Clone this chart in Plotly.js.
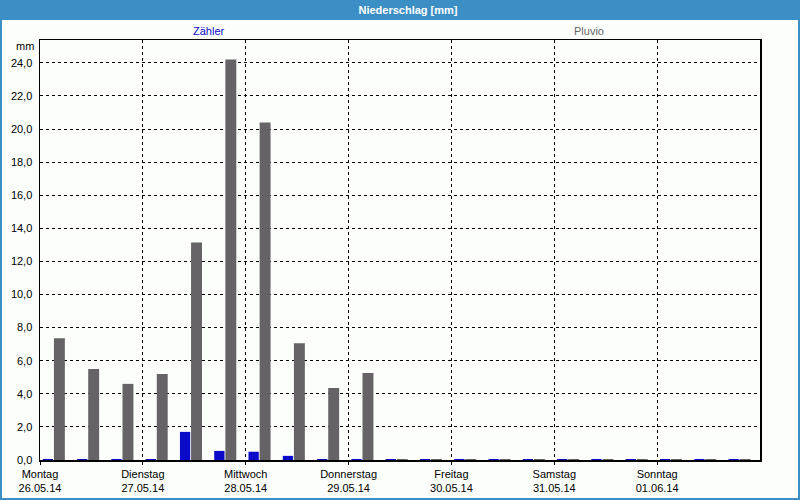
<!DOCTYPE html>
<html>
<head>
<meta charset="utf-8">
<script src="https://cdn.plot.ly/plotly-3.0.1.min.js"></script>
<style>
  html, body { margin: 0; padding: 0; background: #fcfefc; }
  #graph { width: 800px; height: 500px; }
</style>
</head>
<body>
<div id="graph"></div>
<script>
// 8-Stunden-Intervalle, 26.05.14 bis 01.06.14
const zeiten = [
    '2014-05-26 00:00', '2014-05-26 08:00', '2014-05-26 16:00',
    '2014-05-27 00:00', '2014-05-27 08:00', '2014-05-27 16:00',
    '2014-05-28 00:00', '2014-05-28 08:00', '2014-05-28 16:00',
    '2014-05-29 00:00', '2014-05-29 08:00', '2014-05-29 16:00',
    '2014-05-30 00:00', '2014-05-30 08:00', '2014-05-30 16:00',
    '2014-05-31 00:00', '2014-05-31 08:00', '2014-05-31 16:00',
    '2014-06-01 00:00', '2014-06-01 08:00', '2014-06-01 16:00'
];

const zaehler = [0.06, 0.06, 0.06, 0.06, 1.7, 0.55, 0.5, 0.25, 0.06, 0.06, 0.06,
                 0.06, 0.06, 0.06, 0.06, 0.06, 0.06, 0.06, 0.06, 0.06, 0.06];
const pluvio = [7.35, 5.5, 4.6, 5.2, 13.15, 24.2, 20.4, 7.05, 4.35, 5.25, 0.06,
                0.06, 0.06, 0.06, 0.06, 0.06, 0.06, 0.06, 0.06, 0.06, 0.06];

const tagWerte = ['2014-05-26', '2014-05-27', '2014-05-28', '2014-05-29', '2014-05-30', '2014-05-31', '2014-06-01'];
const tagNamen = ['Montag', 'Dienstag', 'Mittwoch', 'Donnerstag', 'Freitag', 'Samstag', 'Sonntag'];
const tagDaten = ['26.05.14', '27.05.14', '28.05.14', '29.05.14', '30.05.14', '31.05.14', '01.06.14'];

const H = 3600 * 1000;
const font = "'Liberation Sans', Arial, sans-serif";

const traces = [
    {
        x: zeiten, y: zaehler, type: 'bar', name: 'Zähler',
        width: 2.4 * H, offset: 0.65 * H,
        marker: { color: '#0a0ac8', line: { width: 0 } },
        hoverinfo: 'skip'
    },
    {
        x: zeiten, y: pluvio, type: 'bar', name: 'Pluvio',
        width: 2.55 * H, offset: 3.25 * H,
        marker: { color: '#656366', line: { width: 0 } },
        hoverinfo: 'skip'
    }
];

const layout = {
    width: 800, height: 500,
    margin: { l: 40, r: 40, t: 40, b: 40, pad: 0 },
    paper_bgcolor: '#fcfefc',
    plot_bgcolor: '#fcfefc',
    showlegend: false,
    separators: ',.',
    font: { family: font, size: 11, color: '#000' },
    title: {
        text: '<b>Niederschlag [mm]</b>',
        font: { family: font, size: 11, color: '#ffffff' },
        x: 0.51, xref: 'container', xanchor: 'center',
        y: 0.98, yref: 'container', yanchor: 'middle'
    },
    xaxis: {
        type: 'date',
        range: ['2014-05-26 00:00', '2014-06-02 00:00'],
        tickvals: tagWerte,
        ticktext: tagNamen.map((n, i) => n + '<br>' + tagDaten[i]),
        showgrid: true, gridcolor: '#000', gridwidth: 1, griddash: '3px,3px',
        showline: true, linecolor: '#000', linewidth: 1.5, mirror: true,
        ticks: 'outside', ticklen: 3, tickcolor: '#000',
        tickfont: { family: font, size: 11, color: '#000' },
        zeroline: false, fixedrange: true
    },
    yaxis: {
        range: [0, 25.38],
        dtick: 2, tick0: 0,
        tickformat: '.1f',
        showgrid: true, gridcolor: '#000', gridwidth: 1, griddash: '3px,3px',
        showline: true, linecolor: '#000', linewidth: 1.5, mirror: true,
        ticks: '', ticklabelstandoff: 4,
        tickfont: { family: font, size: 11, color: '#000' },
        zeroline: false, fixedrange: true
    },
    shapes: [
        {   // Titelleiste
            type: 'rect', xref: 'paper', yref: 'paper', layer: 'below',
            x0: -40 / 720, x1: 1 + 40 / 720, y0: 1 + 20 / 420, y1: 1 + 40 / 420,
            fillcolor: '#3c8fc5', line: { width: 0 }
        },
        {   // Rahmen
            type: 'rect', xref: 'paper', yref: 'paper', layer: 'above',
            x0: -40 / 720, x1: 1 + 40 / 720, y0: -40 / 420, y1: 1 + 40 / 420,
            line: { color: '#3c8fc5', width: 4 }
        }
    ],
    annotations: [
        {
            text: 'Zähler', xref: 'paper', yref: 'paper', x: 169 / 720, y: 1 + 9 / 420,
            xanchor: 'center', yanchor: 'middle', showarrow: false,
            font: { family: font, size: 11, color: '#0a0ac8' }
        },
        {
            text: 'Pluvio', xref: 'paper', yref: 'paper', x: 549 / 720, y: 1 + 9 / 420,
            xanchor: 'center', yanchor: 'middle', showarrow: false,
            font: { family: font, size: 11, color: '#666' }
        },
        {
            text: 'mm', xref: 'paper', yref: 'paper', x: -4 / 720, y: 1 - 6 / 420,
            xanchor: 'right', yanchor: 'middle', showarrow: false,
            font: { family: font, size: 11, color: '#000' }
        }
    ]
};

Plotly.newPlot('graph', traces, layout, { staticPlot: true, displayModeBar: false });
</script>
</body>
</html>
